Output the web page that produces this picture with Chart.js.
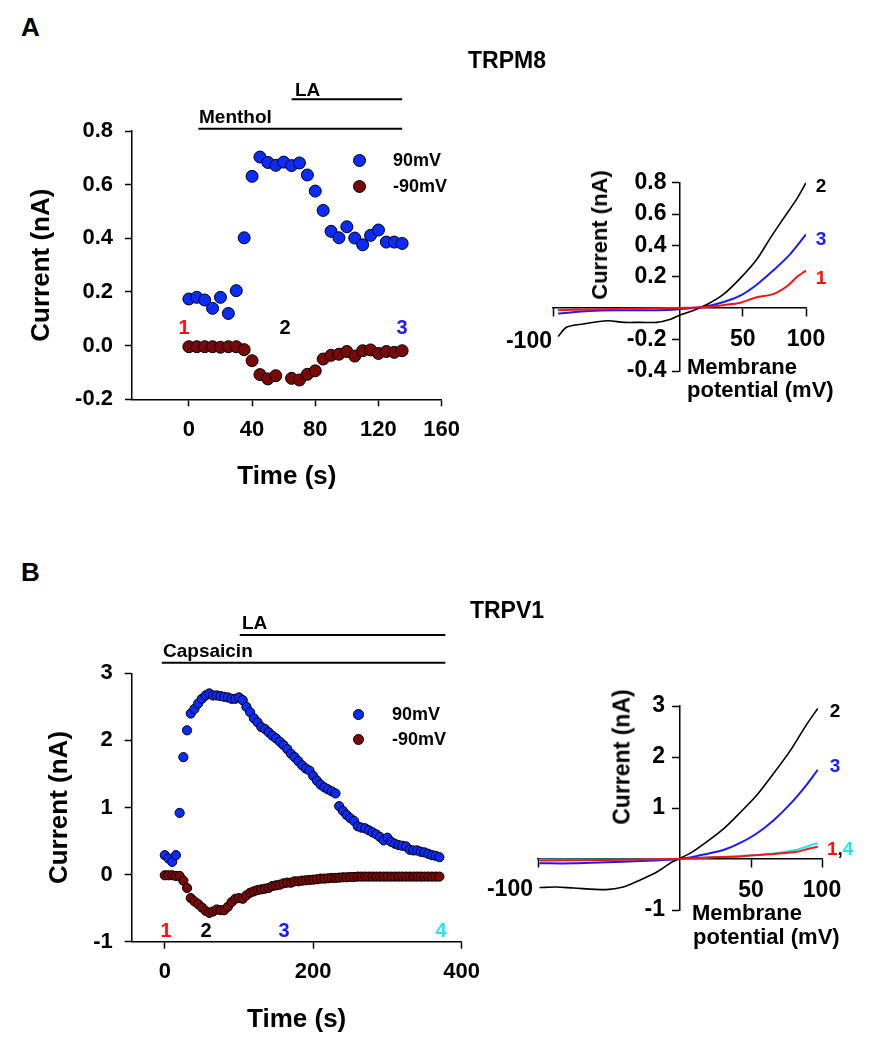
<!DOCTYPE html>
<html>
<head>
<meta charset="utf-8">
<title>TRPM8 / TRPV1 currents</title>
<script src="https://cdn.jsdelivr.net/npm/chart.js"></script>
<style>
    body { margin: 0; background: #fff; }
    #fig {
        position: relative; width: 878px; height: 1050px; overflow: hidden;
        font-family: "Liberation Sans", Arial, sans-serif; font-weight: bold; color: #000;
    }
    #fig canvas { position: absolute; }
    .lbl { position: absolute; white-space: nowrap; line-height: 1; }
    .dot { position: absolute; border: 1px solid #000; border-radius: 50%; box-sizing: border-box; }
</style>
</head>
<body>
<div id="fig">
    <canvas id="trpm8Time" width="470" height="440" style="left:0;top:70px"></canvas>
    <canvas id="trpm8IV" width="388" height="260" style="left:490px;top:160px"></canvas>
    <canvas id="trpv1Time" width="490" height="450" style="left:0;top:600px"></canvas>
    <canvas id="trpv1IV" width="388" height="280" style="left:490px;top:680px"></canvas>
</div>
<script>
// ---- A: TRPM8 time course (s, nA) ----
const timeA = [0, 5, 10, 15, 20, 25, 30, 35, 40, 45, 50, 55, 60, 65,
               70, 75, 80, 85, 90, 95, 100, 105, 110, 115, 120, 125, 130, 135];
const cur90A = [0.174, 0.180, 0.170, 0.139, 0.180, 0.120, 0.205, 0.402, 0.631, 0.703, 0.683, 0.672, 0.684, 0.671,
                0.681, 0.636, 0.576, 0.504, 0.426, 0.402, 0.443, 0.401, 0.376, 0.411, 0.431, 0.386, 0.386, 0.381];
const curNeg90A = [-0.004, -0.004, -0.004, -0.004, -0.006, -0.004, -0.004, -0.015, -0.056, -0.108, -0.124, -0.112, null, -0.122,
                   -0.128, -0.107, -0.094, -0.050, -0.036, -0.032, -0.022, -0.039, -0.019, -0.016, -0.029, -0.022, -0.025, -0.019];
const xTicksA = [0, 40, 80, 120, 160];
const yTicksA = [-0.2, 0, 0.2, 0.4, 0.6, 0.8];
const mentholPeriod = [6, 135];
const laPeriodA = [65, 135];

// ---- A: TRPM8 I-V traces (mV, nA) ----
const ivV1A = [-96, -71, -44, -18, 0, 22, 35, 48, 61, 74, 85, 93, 100];
const ivI1A = [-0.013, -0.008, -0.004, 0, 0.002, 0.008, 0.02, 0.035, 0.07, 0.09, 0.14, 0.20, 0.24];
const ivV2A = [-96, -89, -76, -57, -44, -31, -18, -7, 0, 11, 22, 35, 48, 61, 72, 82, 93, 100];
const ivI2A = [-0.18, -0.12, -0.10, -0.08, -0.09, -0.09, -0.09, -0.07, -0.045, -0.015, 0.025, 0.09, 0.19, 0.31, 0.45, 0.57, 0.70, 0.80];
const ivV3A = [-96, -71, -44, -18, 0, 19, 35, 48, 61, 74, 87, 100];
const ivI3A = [-0.034, -0.017, -0.013, -0.013, -0.006, 0.009, 0.04, 0.08, 0.15, 0.24, 0.34, 0.47];
const ivYTicksA = [-0.4, -0.2, 0, 0.2, 0.4, 0.6, 0.8];

// ---- B: TRPV1 time course (s, nA) ----
const timeB = [0, 5, 10, 15, 20, 25, 30, 35, 40, 45, 50, 55, 60, 65, 70, 75, 80, 85, 90, 95,
               100, 105, 110, 115, 120, 125, 130, 135, 140, 145, 150, 155, 160, 165, 170, 175, 180, 185, 190, 195,
               200, 205, 210, 215, 220, 225, 230, 235, 240, 245, 250, 255, 260, 265, 270, 275, 280, 285, 290, 295,
               300, 305, 310, 315, 320, 325, 330, 335, 340, 345, 350, 355, 360, 365, 370];
const cur90B = [0.29, 0.24, 0.19, 0.29, 0.92, 1.75, 2.15, 2.40, 2.47, 2.55, 2.62, 2.67, 2.70, 2.67, 2.67, 2.66, 2.65, 2.64, 2.62, 2.62,
                2.64, 2.60, 2.50, 2.42, 2.33, 2.27, 2.20, 2.17, 2.12, 2.07, 2.03, 1.98, 1.93, 1.87, 1.80, 1.75, 1.69, 1.63, 1.58, 1.55,
                1.47, 1.40, 1.34, 1.30, 1.27, 1.24, 1.21, 1.02, 0.95, 0.89, 0.84, 0.80, 0.72, 0.70, 0.69, 0.66, 0.63, 0.60, 0.56, 0.51,
                0.55, 0.49, 0.46, 0.44, 0.43, 0.42, 0.37, 0.36, 0.36, 0.34, 0.33, 0.31, 0.29, 0.28, 0.26];
const curNeg90B = [-0.01, -0.01, -0.01, -0.02, -0.02, -0.09, -0.20, -0.35, -0.40, -0.44, -0.49, -0.54, -0.57, -0.55, -0.52, -0.53, -0.53, -0.48, -0.41, -0.36,
                   -0.35, -0.36, -0.31, -0.27, -0.25, -0.23, -0.22, -0.21, -0.20, -0.17, -0.16, -0.15, -0.13, -0.12, -0.12, -0.10, -0.10, -0.09, -0.085, -0.08,
                   -0.075, -0.07, -0.06, -0.06, -0.055, -0.05, -0.05, -0.045, -0.04, -0.04, -0.035, -0.035, -0.03, -0.03, -0.03, -0.03, -0.03, -0.03, -0.03, -0.03,
                   -0.03, -0.03, -0.03, -0.03, -0.03, -0.03, -0.03, -0.03, -0.03, -0.03, -0.03, -0.03, -0.03, -0.03, -0.03];
const xTicksB = [0, 200, 400];
const yTicksB = [-1, 0, 1, 2, 3];
const capsaicinPeriod = [-4, 378];
const laPeriodB = [101, 378];

// ---- B: TRPV1 I-V traces (mV, nA) ----
const ivV1B = [-99, -52, -5, 19, 42, 66, 82, 92, 97];
const ivI1B = [-0.03, -0.02, 0, 0.03, 0.05, 0.10, 0.14, 0.21, 0.24];
const ivV2B = [-99, -87, -75, -52, -40, -28, -16, -5, 7, 19, 31, 42, 54, 66, 78, 89, 97];
const ivI2B = [-0.56, -0.55, -0.57, -0.60, -0.55, -0.41, -0.25, -0.05, 0.11, 0.34, 0.60, 0.90, 1.25, 1.68, 2.14, 2.63, 2.95];
const ivV3B = [-99, -75, -52, -28, -5, 7, 19, 31, 42, 54, 66, 78, 89, 97];
const ivI3B = [-0.085, -0.085, -0.065, -0.04, -0.01, 0.03, 0.10, 0.18, 0.31, 0.50, 0.76, 1.09, 1.45, 1.75];
const ivV4B = [-99, -52, -5, 19, 42, 66, 82, 92, 97];
const ivI4B = [-0.01, -0.01, 0, 0.03, 0.06, 0.11, 0.18, 0.27, 0.31];
const ivYTicksB = [-1, 0, 1, 2, 3];

// I-V x axis: which ticks get a mark and which get a label
const ivXTicks = [-100, -50, 0, 50, 100];
const ivXMarks = [-100, 50, 100];
const ivXLabels = [50, 100];

const BLUE = '#0a2cff';
const MAROON = '#7a0808';
const RED = '#ff1010';
const TRACE_BLUE = '#1a1aff';
const CYAN = '#22e6ee';
const FONT = '"Liberation Sans", Arial, sans-serif';

Chart.defaults.font.family = FONT;
Chart.defaults.color = '#000';
Chart.defaults.animation = false;

const pts = (xs, ys) => xs.map((x, i) => ({ x: x, y: ys[i] })).filter(p => p.y !== null);
const fixedTicks = values => scale => { scale.ticks = values.map(v => ({ value: v })); };

// horizontal drug application bars above the plot, placed with the x scale
function barsPlugin(bars) {
    return {
        id: 'drugBars',
        afterDraw(chart) {
            const { ctx, chartArea, scales } = chart;
            ctx.save();
            ctx.strokeStyle = '#000';
            ctx.lineWidth = 2;
            bars.forEach(b => {
                const y = chartArea.top - b.rise;
                ctx.beginPath();
                ctx.moveTo(scales.x.getPixelForValue(b.period[0]), y);
                ctx.lineTo(scales.x.getPixelForValue(b.period[1]), y);
                ctx.stroke();
            });
            ctx.restore();
        }
    };
}

// a y axis placed at x = 0 puts its labels right on the axis line; push them left of the tick marks
function shiftYLabels(shift) {
    return {
        id: 'shiftYLabels',
        beforeDraw(chart) {
            chart.scales.y.getLabelItems(chart.chartArea).forEach(item => {
                if (item._shifted) return;
                item.options.translation[0] -= shift;
                item._shifted = true;
            });
        }
    };
}

function timeChart(id, o) {
    const series = (data, color) => ({
        data: data,
        showLine: false,
        pointRadius: o.radius,
        pointBackgroundColor: color,
        pointBorderColor: '#000',
        pointBorderWidth: 1
    });
    return new Chart(document.getElementById(id), {
        type: 'scatter',
        data: {
            datasets: [
                series(pts(o.time, o.up), BLUE),
                series(pts(o.time, o.down), MAROON)
            ]
        },
        options: {
            responsive: false,
            layout: { padding: o.pad },
            plugins: { legend: { display: false }, tooltip: { enabled: false } },
            scales: {
                x: {
                    type: 'linear', min: o.xMin, max: o.xMax,
                    afterBuildTicks: fixedTicks(o.xTicks),
                    afterFit: s => { s.height = o.xH; },
                    border: { color: '#000', width: 1.5 },
                    grid: { drawOnChartArea: false, tickLength: 7, tickWidth: 1.5, tickColor: '#000' },
                    ticks: { font: { size: 22, weight: 'bold' }, padding: 10, autoSkip: false, maxRotation: 0 },
                    title: { display: true, text: 'Time (s)', font: { size: 26, weight: 'bold' }, padding: { top: 0, bottom: 0 } }
                },
                y: {
                    type: 'linear', min: o.yMin, max: o.yMax,
                    afterBuildTicks: fixedTicks(o.yTicks),
                    afterFit: s => { s.width = o.yW; },
                    border: { color: '#000', width: 1.5 },
                    grid: { drawOnChartArea: false, tickLength: 7, tickWidth: 1.5, tickColor: '#000' },
                    ticks: { font: { size: 22, weight: 'bold' }, padding: 12, autoSkip: false, callback: o.yFormat },
                    title: { display: true, text: 'Current (nA)', font: { size: 26, weight: 'bold' }, padding: { top: o.yTitlePad, bottom: 0 } }
                }
            }
        },
        plugins: [barsPlugin(o.bars)]
    });
}

function ivChart(id, o) {
    return new Chart(document.getElementById(id), {
        type: 'line',
        data: {
            datasets: o.traces.map(tr => ({
                data: pts(tr.v, tr.i),
                borderColor: tr.color,
                borderWidth: tr.color === '#000' ? 1.6 : 2,
                pointRadius: 0,
                tension: 0.3,
                fill: false
            }))
        },
        options: {
            responsive: false,
            layout: { padding: o.pad },
            plugins: { legend: { display: false }, tooltip: { enabled: false } },
            scales: {
                x: {
                    type: 'linear', min: -100, max: 100, position: { y: 0 },
                    afterBuildTicks: fixedTicks(ivXTicks),
                    afterFit: s => { s.height = 0; },
                    border: { color: '#000', width: 1.5 },
                    grid: {
                        drawOnChartArea: false, tickLength: 8, tickWidth: 1.5,
                        tickColor: c => ivXMarks.includes(c.tick.value) ? '#000' : 'rgba(0,0,0,0)'
                    },
                    ticks: {
                        font: { size: 23, weight: 'bold' }, padding: 10, autoSkip: false, maxRotation: 0,
                        callback: v => ivXLabels.includes(v) ? String(v) : ''
                    }
                },
                y: {
                    type: 'linear', min: o.yTicks[0], max: o.yTicks[o.yTicks.length - 1], position: { x: 0 },
                    afterBuildTicks: fixedTicks(o.yTicks),
                    afterFit: s => { s.width = 0; },
                    border: { color: '#000', width: 1.5 },
                    grid: { drawOnChartArea: false, tickLength: 7, tickWidth: 1.5, tickColor: '#000' },
                    ticks: {
                        font: { size: 23, weight: 'bold' }, autoSkip: false,
                        callback: v => v === 0 ? '' : String(v)
                    }
                }
            }
        },
        plugins: [shiftYLabels(o.labelShift)]
    });
}

timeChart('trpm8Time', {
    time: timeA, up: cur90A, down: curNeg90A, radius: 6,
    xMin: -36, xMax: 160, yMin: -0.2, yMax: 0.8, xTicks: xTicksA, yTicks: yTicksA,
    yFormat: v => v.toFixed(1),
    pad: { left: 0, top: 61, right: 27.7, bottom: 17.4 }, yW: 132, xH: 93.3, yTitlePad: 26.4,
    bars: [{ period: mentholPeriod, rise: 2.3 }, { period: laPeriodA, rise: 31.7 }]
});

ivChart('trpm8IV', {
    yTicks: ivYTicksA, labelShift: 13,
    pad: { left: 63, top: 22.7, right: 72, bottom: 49 },
    traces: [
        { v: ivV1A, i: ivI1A, color: RED },
        { v: ivV2A, i: ivI2A, color: '#000' },
        { v: ivV3A, i: ivI3A, color: TRACE_BLUE }
    ]
});

timeChart('trpv1Time', {
    time: timeB, up: cur90B, down: curNeg90B, radius: 4.6,
    xMin: -44.6, xMax: 400, yMin: -1, yMax: 3, xTicks: xTicksB, yTicks: yTicksB,
    yFormat: v => String(v),
    pad: { left: 0, top: 73.3, right: 26.7, bottom: 14.4 }, yW: 131.7, xH: 93.9, yTitlePad: 44.4,
    bars: [{ period: capsaicinPeriod, rise: 10.6 }, { period: laPeriodB, rise: 38.3 }]
});

ivChart('trpv1IV', {
    yTicks: ivYTicksB, labelShift: 15,
    pad: { left: 48, top: 26, right: 56, bottom: 50 },
    traces: [
        { v: ivV1B, i: ivI1B, color: RED },
        { v: ivV2B, i: ivI2B, color: '#000' },
        { v: ivV3B, i: ivI3B, color: TRACE_BLUE },
        { v: ivV4B, i: ivI4B, color: CYAN }
    ]
});

// ---- text annotations ----
const fig = document.getElementById('fig');

function label(html, x, y, size, opt) {
    opt = opt || {};
    const el = document.createElement('div');
    el.className = 'lbl';
    el.innerHTML = html;
    el.style.left = x + 'px';
    el.style.top = y + 'px';
    el.style.fontSize = size + 'px';
    if (opt.color) el.style.color = opt.color;
    const tx = opt.anchor === 'left' ? '0' : opt.anchor === 'right' ? '-100%' : '-50%';
    el.style.transform = 'translate(' + tx + ',-50%)' + (opt.rotate ? ' rotate(-90deg)' : '');
    fig.appendChild(el);
}

function dot(x, y, d, color) {
    const el = document.createElement('div');
    el.className = 'dot';
    el.style.left = (x - d / 2) + 'px';
    el.style.top = (y - d / 2) + 'px';
    el.style.width = d + 'px';
    el.style.height = d + 'px';
    el.style.background = color;
    fig.appendChild(el);
}

const L = { anchor: 'left' };

// panel A
label('A', 21, 27, 26, L);
label('TRPM8', 507, 60, 23);
label('Menthol', 199, 116, 19, L);
label('LA', 295, 89, 19, L);
dot(359, 160, 13, BLUE);
label('90mV', 393, 160, 18, L);
dot(359, 186, 13, MAROON);
label('-90mV', 393, 186, 18, L);
label('1', 184, 327, 20, { color: RED });
label('2', 285, 327, 20);
label('3', 402, 327, 20, { color: TRACE_BLUE });
label('Current (nA)', 600, 235, 22, { rotate: true });
label('Membrane', 687, 367, 22, L);
label('potential (mV)', 687, 390, 22, L);
label('-100', 552, 340, 23, { anchor: 'right' });
label('2', 821, 185, 19);
label('3', 821, 238, 19, { color: TRACE_BLUE });
label('1', 821, 277, 19, { color: RED });

// panel B
label('B', 21, 572, 26, L);
label('TRPV1', 507, 610, 23);
label('Capsaicin', 163, 650, 19, L);
label('LA', 242, 622, 19, L);
dot(358, 714, 11, BLUE);
label('90mV', 392, 714, 18, L);
dot(358, 739, 11, MAROON);
label('-90mV', 392, 739, 18, L);
label('1', 166, 930, 20, { color: RED });
label('2', 206, 930, 20);
label('3', 284, 930, 20, { color: TRACE_BLUE });
label('4', 441, 930, 20, { color: CYAN });
label('Current (nA)', 622, 757, 23, { rotate: true });
label('Membrane', 692, 913, 22, L);
label('potential (mV)', 693, 937, 22, L);
label('-100', 533, 888, 23, { anchor: 'right' });
label('2', 835, 710, 19);
label('3', 835, 765, 19, { color: TRACE_BLUE });
label('<span style="color:' + RED + '">1</span>,<span style="color:' + CYAN + '">4</span>', 827, 848, 19, L);
</script>
</body>
</html>
